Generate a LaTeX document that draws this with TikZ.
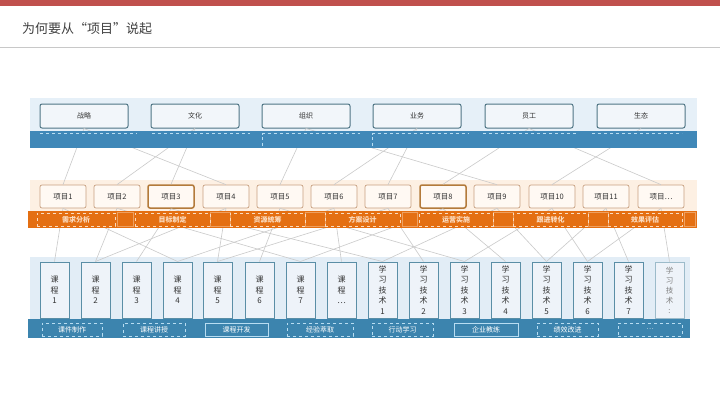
\documentclass[tikz,border=0pt]{standalone}
\usepackage{fontspec}
\setmainfont{Noto Sans CJK SC}
\begin{document}
\begin{tikzpicture}[x=1pt,y=-1pt,
  topbox/.style={draw=topedge,line width=1pt,fill=topfill,rounded corners=2pt,minimum width=88pt,minimum height=24pt,inner sep=0pt,font=\fontsize{7}{8}\selectfont,text=txt},
  projbox/.style={draw=projedge,line width=0.7pt,fill=projfill,rounded corners=2pt,minimum width=46pt,minimum height=23pt,inner sep=0pt,font=\fontsize{7.5}{8}\selectfont,text=txt},
  projbold/.style={projbox,draw=projbold,line width=1.5pt},
  coursebox/.style={draw=courseedge,line width=1pt,fill=coursefill,minimum width=29pt,minimum height=56pt,inner sep=0pt,align=center,font=\fontsize{8}{10.5}\selectfont,text=txt},
  learnbox/.style={coursebox,font=\fontsize{8}{10.5}\selectfont},
  link/.style={draw=linkgray,line width=0.6pt},
  olabel/.style={draw=olight,dashed,line width=0.6pt,minimum height=13pt,inner sep=0pt,text=olight,font=\fontsize{7}{8}\selectfont\bfseries},
  blabel/.style={draw=blight,dashed,line width=0.6pt,minimum height=13pt,inner sep=0pt,text=white,font=\fontsize{7}{8}\selectfont},
  blabelsolid/.style={blabel,solid}
]
\definecolor{redbar}{HTML}{C0504D}
\definecolor{titlegray}{HTML}{404040}
\definecolor{rulegray}{HTML}{C8C8C8}
\definecolor{topbg}{HTML}{E6F0F8}
\definecolor{topedge}{HTML}{4F7585}
\definecolor{topfill}{HTML}{F2F6FA}
\definecolor{bluebar}{HTML}{4088B8}
\definecolor{blight}{HTML}{B8DDF2}
\definecolor{projbg}{HTML}{FDF0E3}
\definecolor{projedge}{HTML}{C8A080}
\definecolor{projbold}{HTML}{B37A3A}
\definecolor{projfill}{HTML}{FFF9F3}
\definecolor{orangebar}{HTML}{E46F12}
\definecolor{olight}{HTML}{FBDCC0}
\definecolor{coursebg}{HTML}{E2EDF6}
\definecolor{courseedge}{HTML}{5A8EA6}
\definecolor{coursefill}{HTML}{EEF3F9}
\definecolor{bottombar}{HTML}{3C84AE}
\definecolor{linkgray}{HTML}{CACACA}
\definecolor{txt}{HTML}{333333}

\useasboundingbox (0,0) rectangle (720,405);
\fill[white] (0,0) rectangle (720,405);
% header
\fill[redbar] (0,0) rectangle (720,6);
\node[anchor=west,inner sep=0pt,text=titlegray,font=\fontsize{13}{14}\selectfont] (title) at (22,29) {为何要从“项目”说起};
\draw[rulegray,line width=0.8pt] (0,47) -- (720,47);

% backgrounds
\fill[topbg] (30,98) rectangle (697,148);
\fill[projbg] (30,180) rectangle (697,228);
\fill[coursebg] (30,257) rectangle (690,322);

% top boxes
\node[topbox] (t1) at (84,116) {战略};
\node[topbox] (t2) at (195,116) {文化};
\node[topbox] (t3) at (306,116) {组织};
\node[topbox] (t4) at (417,116) {业务};
\node[topbox] (t5) at (529,116) {员工};
\node[topbox] (t6) at (641,116) {生态};

% projects
\node[projbox]  (p1)  at (63,196.5)  {项目1};
\node[projbox]  (p2)  at (117,196.5) {项目2};
\node[projbold] (p3)  at (171,196.5) {项目3};
\node[projbox]  (p4)  at (226,196.5) {项目4};
\node[projbox]  (p5)  at (280,196.5) {项目5};
\node[projbox]  (p6)  at (334,196.5) {项目6};
\node[projbox]  (p7)  at (388,196.5) {项目7};
\node[projbold] (p8)  at (443,196.5) {项目8};
\node[projbox]  (p9)  at (497,196.5) {项目9};
\node[projbox]  (p10) at (552,196.5) {项目10};
\node[projbox]  (p11) at (606,196.5) {项目11};
\node[projbox]  (p12) at (661,196.5) {项目…};

% courses
\node[coursebox] (c1) at (54.5,290) {课\\程\\1};
\node[coursebox] (c2) at (95.5,290) {课\\程\\2};
\node[coursebox] (c3) at (136.5,290) {课\\程\\3};
\node[coursebox] (c4) at (177.5,290) {课\\程\\4};
\node[coursebox] (c5) at (217.5,290) {课\\程\\5};
\node[coursebox] (c6) at (259.5,290) {课\\程\\6};
\node[coursebox] (c7) at (300.5,290) {课\\程\\7};
\node[coursebox] (c8) at (341.5,290) {课\\程\\…};
\node[learnbox] (c9)  at (382.5,290) {学\\习\\技\\术\\1};
\node[learnbox] (c10) at (423.5,290) {学\\习\\技\\术\\2};
\node[learnbox] (c11) at (464.5,290) {学\\习\\技\\术\\3};
\node[learnbox] (c12) at (505.5,290) {学\\习\\技\\术\\4};
\node[learnbox] (c13) at (546.5,290) {学\\习\\技\\术\\5};
\node[learnbox] (c14) at (587.5,290) {学\\习\\技\\术\\6};
\node[learnbox] (c15) at (628.5,290) {学\\习\\技\\术\\7};
\node[learnbox,text=gray,draw=courseedge!60,font=\fontsize{7.5}{10}\selectfont] (c16) at (669.5,290) {学\\习\\技\\术\\:};

% links top -> projects
\foreach \a/\b in {t1/p1,t1/p4,t2/p2,t2/p3,t3/p5,t3/p9,t4/p6,t4/p7,t5/p8,t5/p12,t6/p10}
  \draw[link] (\a.south) -- (\b.north);
% links projects -> courses
\foreach \a/\b in {p1/c1,p1/c4,p2/c2,p2/c7,p3/c3,p3/c9,p4/c5,p4/c2,p5/c6,p5/c11,p6/c4,p6/c8,p7/c10,p7/c5,p8/c12,p8/c7,p9/c13,p9/c9,p10/c14,p10/c11,p11/c15,p11/c13,p12/c16,p12/c14}
  \draw[link] (\a.south) -- (\b.north);

% blue top bar
\fill[bluebar] (30,131) rectangle (697,148);
\draw[blight,dashed,line width=0.7pt] (40,133.5) -- (137,133.5);
\draw[blight,dashed,line width=0.7pt] (152,133.5) -- (250,133.5);
\draw[blight,dashed,line width=0.7pt] (262,146) -- (262,133.5) -- (360,133.5);
\draw[blight,dashed,line width=0.7pt] (372,146) -- (372,133.5) -- (468,133.5);
\draw[blight,dashed,line width=0.7pt] (483,133.5) -- (578,133.5);
\draw[blight,dashed,line width=0.7pt] (592,133.5) -- (682,133.5);

% orange bar
\fill[orangebar] (28,211) rectangle (697,228);
\foreach \xa/\xb in {117/133,210/230,305/325,402/417,493/513,588/608,684/695}
  \draw[olight!45!orangebar,line width=0.5pt] (\xa,212.5) rectangle (\xb,226.5);
\node[olabel,minimum width=78pt] (o1) at (76,219.5) {需求分析};
\node[olabel,minimum width=75pt] (o2) at (172.5,219.5) {目标制定};
\node[olabel,minimum width=75pt] (o3) at (267.5,219.5) {资源统筹};
\node[olabel,minimum width=75pt] (o4) at (362.5,219.5) {方案设计};
\node[olabel,minimum width=74pt] (o5) at (456,219.5) {运营实施};
\node[olabel,minimum width=75pt] (o6) at (550.5,219.5) {跟进转化};
\node[olabel,minimum width=74pt] (o7) at (645,219.5) {效果评估};

% bottom bar
\fill[bottombar] (28,319) rectangle (690,338);
\node[blabel,minimum width=60pt] (b1) at (72,329.5) {课件制作};
\node[blabel,minimum width=62pt] (b2) at (154,329.5) {课程讲授};
\node[blabelsolid,minimum width=63pt] (b3) at (236.5,329.5) {课程开发};
\node[blabel,minimum width=66pt] (b4) at (320,329.5) {经验萃取};
\node[blabel,minimum width=61pt] (b5) at (402.5,329.5) {行动学习};
\node[blabelsolid,minimum width=64pt] (b6) at (486,329.5) {企业教练};
\node[blabel,minimum width=61pt] (b7) at (567.5,329.5) {绩效改进};
\node[blabel,minimum width=64pt] (b8) at (650,329.5) {…};
\end{tikzpicture}
\end{document}
